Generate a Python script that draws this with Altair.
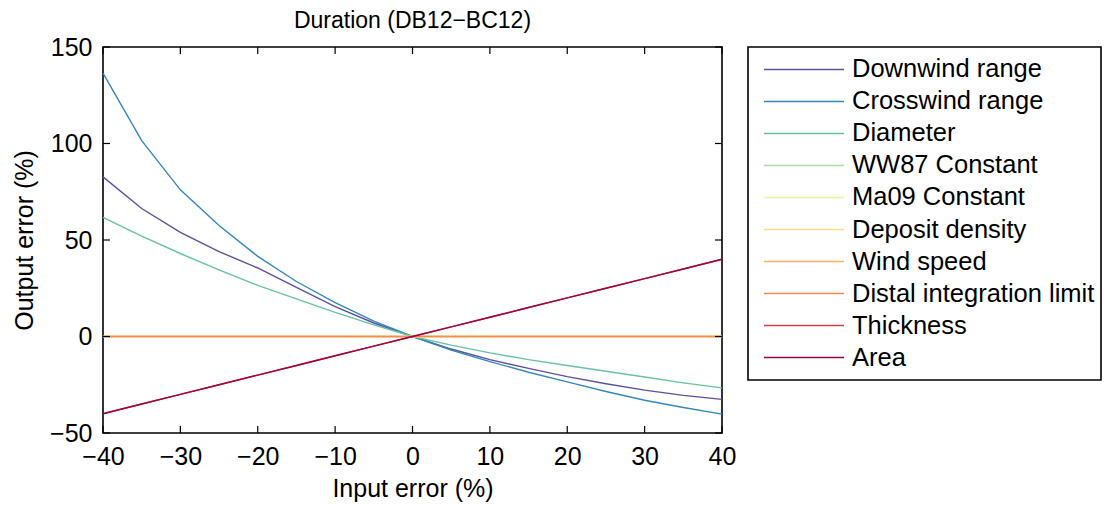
import altair as alt
import pandas as pd

x_vals = [-40, -35, -30, -25, -20, -15, -10, -5, 0, 5, 10, 15, 20, 25, 30, 35, 40]

downwind = [82.7, 66.3, 54.0, 44.0, 35.5, 25.5, 15.5, 7.0, 0.0, -6.5, -12.0, -16.5, -20.8, -24.5, -27.8, -30.5, -32.6]
crosswind = [136.5, 101.5, 76.0, 57.5, 41.5, 28.5, 17.5, 8.0, 0.0, -7.0, -13.0, -18.5, -23.5, -28.5, -33.0, -36.8, -40.2]
diameter = [61.7, 52.0, 43.0, 34.5, 26.5, 19.5, 12.5, 6.0, 0.0, -4.5, -8.5, -12.0, -15.0, -18.0, -21.0, -24.0, -26.6]
ww87 = [0.0] * 17
ma09 = [0.0] * 17
deposit = [0.0] * 17
wind = [0.0] * 17
distal = [0.0] * 17
thickness = [-40, -35, -30, -25, -20, -15, -10, -5, 0, 5, 10, 15, 20, 25, 30, 35, 40]
area = [-40, -35, -30, -25, -20, -15, -10, -5, 0, 5, 10, 15, 20, 25, 30, 35, 40]

series_names = ["Downwind range", "Crosswind range", "Diameter", "WW87 Constant",
                "Ma09 Constant", "Deposit density", "Wind speed",
                "Distal integration limit", "Thickness", "Area"]
series_values = [downwind, crosswind, diameter, ww87, ma09, deposit, wind,
                 distal, thickness, area]
colors = ["#5e4fa2", "#3288bd", "#66c2a5", "#abdda4", "#e6f598", "#fee08b",
          "#fdae61", "#f68a52", "#d53e4f", "#9e0142"]

x_ticks = [-40, -30, -20, -10, 0, 10, 20, 30, 40]
y_ticks = [-50, 0, 50, 100, 150]

rows = []
for order, (name, vals) in enumerate(zip(series_names, series_values)):
    for xv, yv in zip(x_vals, vals):
        rows.append({"series": name, "order": order, "x": xv, "y": yv})
df = pd.DataFrame(rows)
leg_df = pd.DataFrame({"series": series_names})

FONT = "Liberation Sans"
W, H = 619, 386
LW, LH = 353, 333

xscale = alt.Scale(domain=[-40, 40], nice=False)
yscale = alt.Scale(domain=[-50, 150], nice=False)
cscale = alt.Scale(domain=series_names, range=colors)

lines = alt.Chart(df).mark_line(strokeWidth=1.4).encode(
    x=alt.X("x:Q", scale=xscale,
            axis=alt.Axis(values=x_ticks, title="Input error (%)", labelFlush=False,
                          labelPadding=11, titlePadding=7)),
    y=alt.Y("y:Q", scale=yscale,
            axis=alt.Axis(values=y_ticks, title="Output error (%)", labelFlush=False,
                          labelPadding=11, titlePadding=12)),
    color=alt.Color("series:N", sort=series_names, scale=cscale, legend=None),
    order=alt.Order("order:Q"),
    detail="series:N",
)

xt = pd.DataFrame({"t": x_ticks})
yt = pd.DataFrame({"t": y_ticks})

tick_style = dict(color="black", strokeWidth=1.2)
xt_bottom = alt.Chart(xt).mark_rule(**tick_style).encode(
    x=alt.X("t:Q", scale=xscale), y=alt.value(H), y2=alt.value(H - 7))
xt_top = alt.Chart(xt).mark_rule(**tick_style).encode(
    x=alt.X("t:Q", scale=xscale), y=alt.value(0), y2=alt.value(7))
yt_left = alt.Chart(yt).mark_rule(**tick_style).encode(
    y=alt.Y("t:Q", scale=yscale), x=alt.value(0), x2=alt.value(7))
yt_right = alt.Chart(yt).mark_rule(**tick_style).encode(
    y=alt.Y("t:Q", scale=yscale), x=alt.value(W), x2=alt.value(W - 7))

plot = alt.layer(lines, xt_bottom, xt_top, yt_left, yt_right).properties(
    width=W, height=H,
    title=alt.TitleParams("Duration (DB12\u2212BC12)", font=FONT, fontSize=23,
                          fontWeight="normal", color="black", offset=2,
                          frame="group", anchor="middle"),
)

leg_y = alt.Y("series:N", sort=series_names,
              scale=alt.Scale(type="point", padding=0.7), axis=None)
leg_lines = alt.Chart(leg_df).mark_rule(strokeWidth=1.5).encode(
    y=leg_y, x=alt.value(16), x2=alt.value(96),
    color=alt.Color("series:N", sort=series_names, scale=cscale, legend=None),
)
leg_text = alt.Chart(leg_df).mark_text(
    align="left", baseline="middle", font=FONT, fontSize=25.5, color="black"
).encode(
    y=leg_y, x=alt.value(104), text="series:N",
)
legend = alt.layer(leg_lines, leg_text).properties(width=LW, height=LH)

chart = alt.hconcat(plot, legend, spacing=10).properties(
    padding={"left": 3, "top": 1, "right": 0, "bottom": 0},
).configure_view(
    stroke="black", strokeWidth=1.6
).configure_axis(
    grid=False, domain=False, ticks=False,
    labelFont=FONT, labelFontSize=25, labelColor="black",
    titleFont=FONT, titleFontSize=25, titleFontWeight="normal", titleColor="black",
)

chart.save("out.html", embed_options={"renderer": "svg", "actions": False})
